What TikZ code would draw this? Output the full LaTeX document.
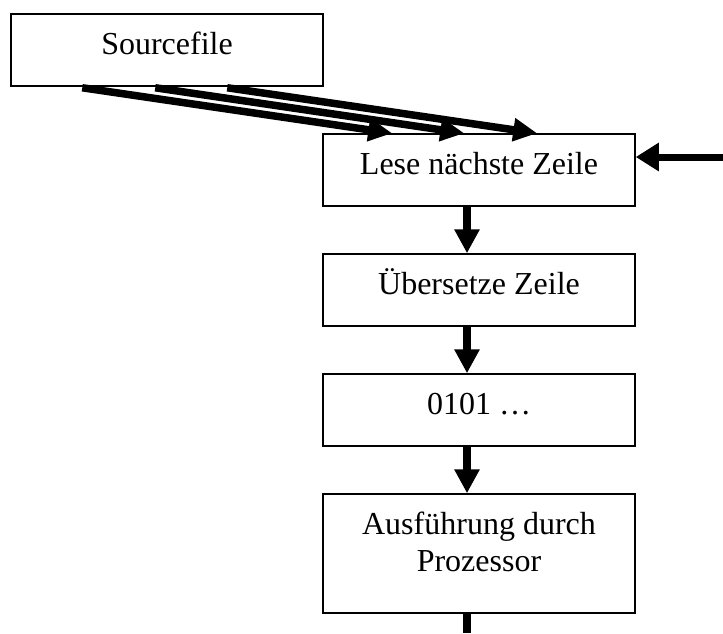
\documentclass[tikz,border=0pt]{standalone}
\usepackage{fontspec}
\setmainfont{Liberation Serif}
\usetikzlibrary{arrows.meta,calc}

\tikzset{
  box/.style={draw=black, line width=1.5pt, minimum width=312pt, inner sep=0pt},
  lbl/.style={anchor=base, inner sep=0pt, font=\fontsize{32}{37}\selectfont},
  feed/.style={line width=7.5pt, -{Triangle[length=24pt,width=22pt]}},
  flow/.style={line width=8pt, -{Triangle[length=24pt,width=24pt]}},
  back/.style={line width=7pt, -{Triangle[length=23pt,width=27pt]}},
}

\begin{document}
\begin{tikzpicture}[x=1pt, y=-1pt]
  \useasboundingbox (0,0) rectangle (723,633);

  % boxes
  \node[box, minimum height=72pt]  (src)  at (167,50)    {};
  \node[box, minimum height=72pt]  (read) at (479,170)   {};
  \node[box, minimum height=72pt]  (trans) at (479,290)  {};
  \node[box, minimum height=72pt]  (bin)  at (479,410)   {};
  \node[box, minimum height=119pt] (exec) at (479,553.5) {};

  % box texts
  \node[lbl] (tsrc)   at ($(src.north)+(0,41)$)   {Sourcefile};
  \node[lbl] (tread)  at ($(read.north)+(0,41)$)  {Lese nächste Zeile};
  \node[lbl] (ttrans) at ($(trans.north)+(0,41)$) {Übersetze Zeile};
  \node[lbl] (tbin)   at ($(bin.north)+(0,41)$)   {0101 …};
  \node[lbl] (texec1) at ($(exec.north)+(0,41)$)  {Ausführung durch};
  \node[lbl] (texec2) at ($(exec.north)+(0,78)$)  {Prozessor};

  % source lines flowing into the reader
  \coordinate (s1) at ($(src.south west)+(72,1)$);
  \coordinate (s2) at ($(src.south west)+(145,1)$);
  \coordinate (s3) at ($(src.south west)+(217,1)$);
  \coordinate (r1) at ($(read.north west)+(70,0)$);
  \coordinate (r2) at ($(read.north west)+(142,0)$);
  \coordinate (r3) at ($(read.north west)+(215,0)$);
  \draw[feed] (s1) -- (r1);
  \draw[feed] (s2) -- (r2);
  \draw[feed] (s3) -- (r3);

  % processing chain
  \coordinate (d1a) at ($(read.south)+(-12,0)$);
  \coordinate (d1b) at ($(trans.north)+(-12,0)$);
  \coordinate (d2a) at ($(trans.south)+(-12,0)$);
  \coordinate (d2b) at ($(bin.north)+(-12,0)$);
  \coordinate (d3a) at ($(bin.south)+(-12,0)$);
  \coordinate (d3b) at ($(exec.north)+(-12,0)$);
  \draw[flow] (d1a) -- (d1b);
  \draw[flow] (d2a) -- (d2b);
  \draw[flow] (d3a) -- (d3b);

  % loop back to the next line
  \coordinate (out) at ($(exec.south)+(-12,0)$);
  \coordinate (down) at (467,633);
  \draw[line width=8pt] (out) -- (down);
  \coordinate (loopin) at (723,157);
  \coordinate (rin) at ($(read.east)+(0,-13)$);
  \draw[back] (loopin) -- (rin);
\end{tikzpicture}
\end{document}
